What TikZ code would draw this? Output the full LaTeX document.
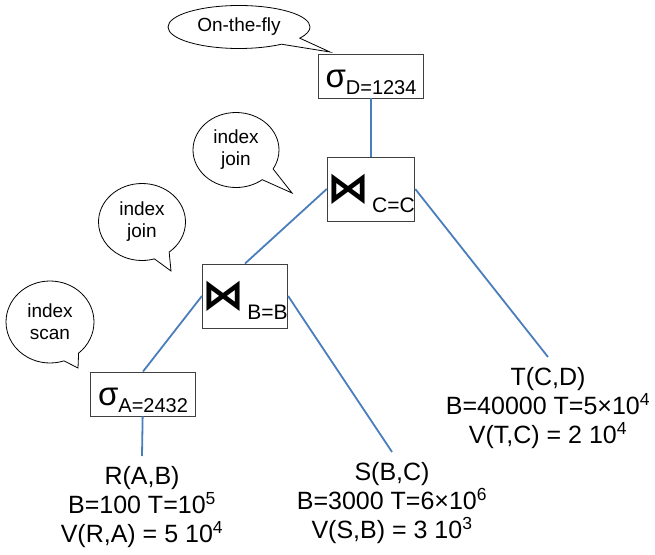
\documentclass[tikz,border=0pt]{standalone}
\usepackage{fontspec}
\setmainfont{Liberation Sans}
\newfontfamily\joinfont{DejaVu Sans}
\usetikzlibrary{shapes.callouts}
\definecolor{PlanBlue}{HTML}{4A7EBB}
\definecolor{PlanGray}{HTML}{404040}
\tikzset{
  opbox/.style={
    draw=PlanGray,
    line width=.9pt,
    inner sep=0pt,
    align=center
  },
  selbox/.style={opbox,minimum width=105pt,minimum height=44pt,text height=26pt,text depth=4pt},
  joinbox/.style={opbox,minimum width=85pt,minimum height=64pt,text height=30pt,text depth=4pt},
  relation/.style={align=center,anchor=north,inner sep=10pt,font=\fontsize{25}{29}\selectfont},
  remark/.style={
    ellipse callout,
    draw=black,
    line width=.8pt,
    align=center,
    inner sep=0pt,
    callout pointer arc=22,
    font=\fontsize{19}{22}\selectfont
  },
  edge/.style={draw=PlanBlue,line width=1.8pt}
}
\newcommand{\opsigma}[1]{{\fontsize{33}{33}\selectfont σ}\raisebox{-7pt}{\fontsize{20}{20}\selectfont #1}}
\newcommand{\opjoin}[1]{{\joinfont\bfseries\fontsize{42}{42}\selectfont ⋈}\hspace{3pt}\raisebox{-10pt}{\fontsize{21}{21}\selectfont #1}}

\begin{document}
\begin{tikzpicture}[x=1pt,y=-1pt]
  \useasboundingbox (0,0) rectangle (655,554);

  % Operators of the plan.
  \node[selbox]  (sD) at (371,76)  {\opsigma{D=1234}};
  \node[joinbox] (jC) at (371,189) {\opjoin{C=C}};
  \node[joinbox] (jB) at (245,296) {\opjoin{B=B}};
  \node[selbox]  (sA) at (143,394) {\opsigma{A=2432}};

  % Base relations with their statistics.
  \node[relation] (relR) at (142,456) {R(A,B)\\B=100 T=10\textsuperscript{5}\\V(R,A) = 5 10\textsuperscript{4}};
  \node[relation] (relS) at (392,452) {S(B,C)\\B=3000 T=6×10\textsuperscript{6}\\V(S,B) = 3 10\textsuperscript{3}};
  \node[relation] (relT) at (548,357) {T(C,D)\\B=40000 T=5×10\textsuperscript{4}\\V(T,C) = 2 10\textsuperscript{4}};

  \draw[edge] (sD) -- (jC);
  \draw[edge] (jC.west) -- (jB.north);
  \draw[edge] (jC.east) -- (relT.north);
  \draw[edge] (jB.west) -- (sA.north);
  \draw[edge] (jB.east) -- (relS.north);
  \draw[edge] (sA) -- (relR.north);

  % Speech bubbles naming the access methods.
  \coordinate (flytip)  at (330,52);
  \coordinate (joinCtip) at (292,193);
  \coordinate (joinBtip) at (171,271);
  \coordinate (scantip) at (78,368);
  \node[remark,minimum width=142pt,minimum height=43pt,callout absolute pointer=(flytip)] (fly) at (239,27) {On-the-fly};
  \node[remark,minimum width=86pt,minimum height=75pt,callout absolute pointer=(joinCtip)] (joinC) at (236,150) {index\\join};
  \node[remark,minimum width=87pt,minimum height=77pt,callout absolute pointer=(joinBtip)] (joinB) at (142,222) {index\\join};
  \node[remark,minimum width=88pt,minimum height=82pt,callout absolute pointer=(scantip)] (scan) at (50,322) {index\\scan};
\end{tikzpicture}
\end{document}
